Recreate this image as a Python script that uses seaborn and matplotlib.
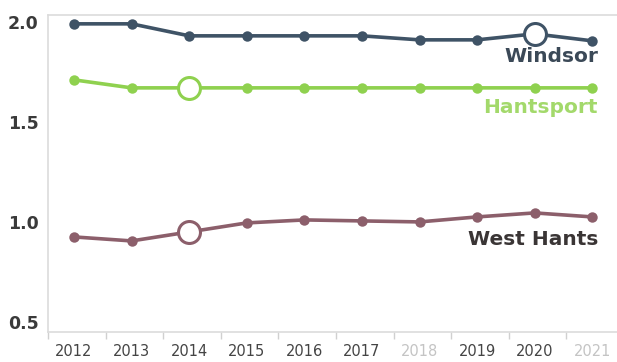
import matplotlib
matplotlib.use("Agg")
import matplotlib.pyplot as plt
import seaborn as sns
import pandas as pd
import numpy as np

years = ["2012", "2013", "2014", "2015", "2016", "2017", "2018", "2019", "2020", "2021"]
windsor = [1.99, 1.99, 1.93, 1.93, 1.93, 1.93, 1.91, 1.91, 1.94, 1.905]
hantsport = [1.71, 1.67, 1.67, 1.67, 1.67, 1.67, 1.67, 1.67, 1.67, 1.67]
west_hants = [0.925, 0.905, 0.95, 0.995, 1.01, 1.005, 1.0, 1.025, 1.045, 1.025]
highlight = {"Windsor": "2020", "Hantsport": "2014", "West Hants": "2014"}
y_ticks = [0.5, 1.0, 1.5, 2.0]
y_tick_labels = ["0.5", "1.0", "1.5", "2.0"]
faded_years = ["2018", "2021"]

colors = {"Windsor": "#3f5366", "Hantsport": "#8fd14f", "West Hants": "#8c5f6b"}
label_colors = {"Windsor": "#3b4957", "Hantsport": "#a3d96b", "West Hants": "#3a3535"}

rows = []
for name, vals in [("Windsor", windsor), ("Hantsport", hantsport), ("West Hants", west_hants)]:
    for i, (yr, v) in enumerate(zip(years, vals)):
        rows.append({"series": name, "idx": i, "year": yr, "value": v})
df = pd.DataFrame(rows)

sns.set_theme(style="white")
plt.rcParams["font.family"] = ["DejaVu Sans"]

fig = plt.figure(figsize=(6.17, 3.62), dpi=100)
ax = fig.add_axes([0.078, 0.083, 0.922, 0.876])

sns.lineplot(data=df, x="idx", y="value", hue="series", palette=colors,
             marker="o", markersize=7.5, markeredgewidth=0, linewidth=2.6,
             legend=False, ax=ax, zorder=3)

hl = df[df.apply(lambda r: highlight[r["series"]] == r["year"], axis=1)]
for name, sub in hl.groupby("series"):
    sns.scatterplot(data=sub, x="idx", y="value", s=250, color="white",
                    edgecolor=colors[name], linewidth=2.2, ax=ax, zorder=5, legend=False)

ax.set_xlim(-0.43, 9.43)
ax.set_ylim(0.45, 2.035)
ax.set_xticks(range(len(years)))
ax.set_xticklabels(years)
ax.set_xticks(np.arange(len(years)) - 0.45, minor=True)
ax.tick_params(axis="x", which="major", length=0, pad=9, labelsize=10.5, colors="#444444")
ax.tick_params(axis="x", which="minor", length=5, width=1, color="#d0d0d0", direction="out", bottom=True)
for lbl in ax.get_xticklabels():
    if lbl.get_text() in faded_years:
        lbl.set_color("#c4c4c4")
ax.set_yticks(y_ticks)
ax.set_yticklabels(y_tick_labels)
ax.tick_params(axis="y", length=0, pad=7, labelsize=12.5, colors="#3a3a3a")
for lbl in ax.get_yticklabels():
    lbl.set_fontweight("bold")
ax.set_xlabel("")
ax.set_ylabel("")

sns.despine(ax=ax, top=False, right=True, left=False, bottom=False)
for side in ["left", "top", "bottom"]:
    ax.spines[side].set_color("#dcdcdc")
    ax.spines[side].set_linewidth(1.2)
ax.patch.set_edgecolor("none")

ax.text(9.1, 1.825, "Windsor", ha="right", va="center", fontsize=14.5,
        fontweight="bold", color=label_colors["Windsor"])
ax.text(9.1, 1.57, "Hantsport", ha="right", va="center", fontsize=14.5,
        fontweight="bold", color=label_colors["Hantsport"])
ax.text(9.1, 0.91, "West Hants", ha="right", va="center", fontsize=14.5,
        fontweight="bold", color=label_colors["West Hants"])

fig.savefig("out.png", dpi=100)
